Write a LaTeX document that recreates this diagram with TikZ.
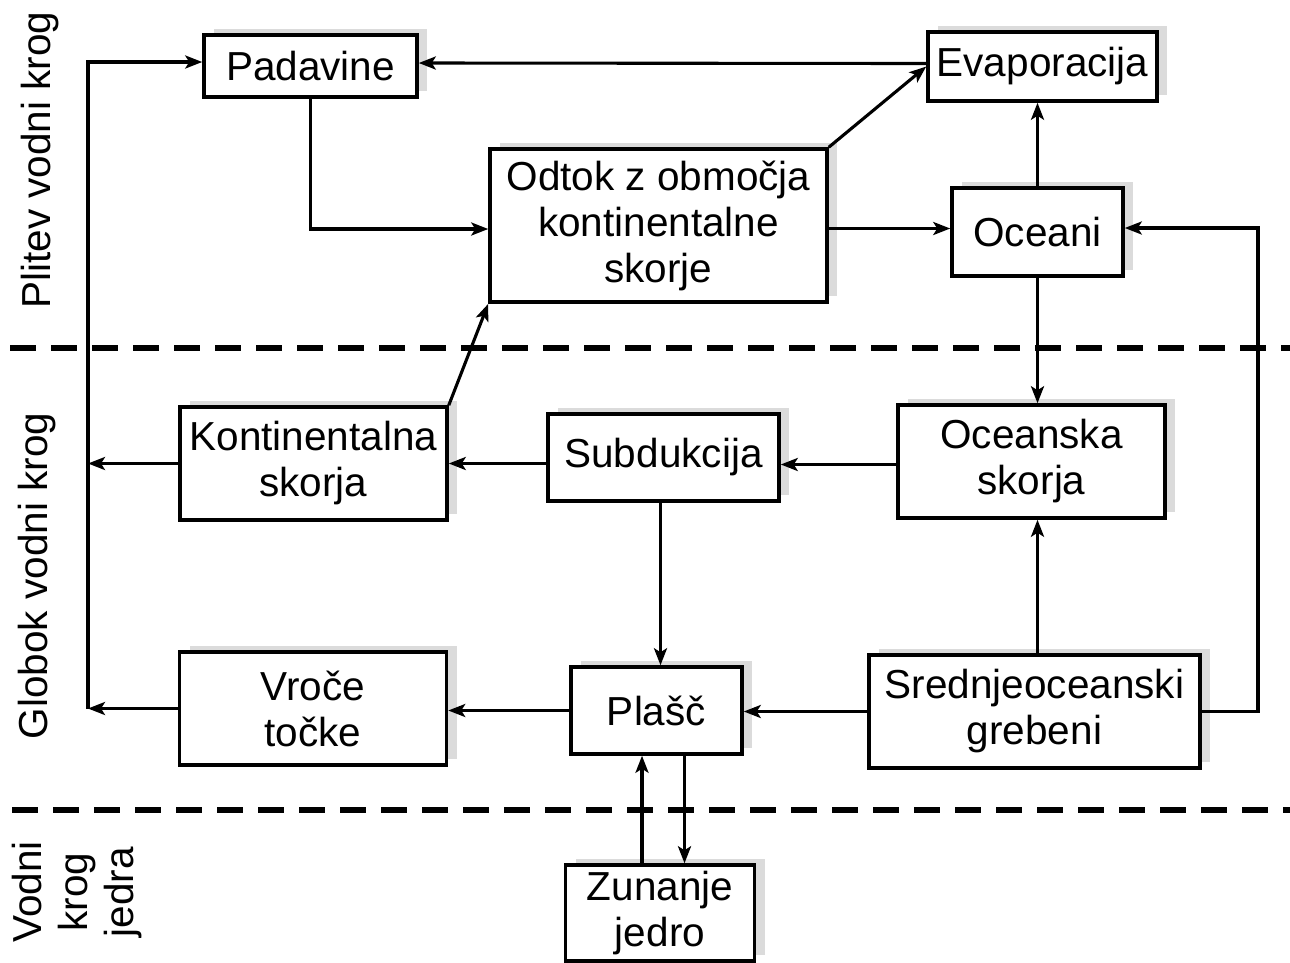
\documentclass[tikz,border=0pt]{standalone}
\usepackage{fontspec}
\setmainfont{Liberation Sans}
\usepackage{xcolor}
\usepackage{tikz}
\definecolor{shadowgray}{gray}{0.86}
\usetikzlibrary{arrows.meta,shadows}

\begin{document}
\begin{tikzpicture}[x=1pt, y=1pt,
    every node/.style={font=\fontsize{40.5}{46}\selectfont},
    box/.style={draw, line width=3.5pt, fill=white, inner sep=0pt, align=center,
      drop shadow={shadow xshift=10pt, shadow yshift=6pt, fill=shadowgray, draw=none, opacity=1}},
    arr/.style={line width=3.1pt, -{Stealth[length=17pt,width=13pt,inset=4pt]}},
    divline/.style={line width=6pt, dash pattern=on 26pt off 15pt}]
    \useasboundingbox (0,0) rectangle (1290,-962);
    % zones
    \draw[divline] (10,-348) -- (1290,-348);
    \draw[divline] (12,-810) -- (1290,-810);
    \node[rotate=90, anchor=base] (plitev) at (50,-160) {Plitev vodni krog};
    \node[rotate=90, anchor=base] (globok) at (47,-576) {Globok vodni krog};
    \node[rotate=90, align=center, inner sep=0pt] (jedrokrog) at (77,-892) {Vodni\\krog\\jedra};
    % boxes
    \node[box, minimum width=213pt, minimum height=62pt] (pad) at (310.5,-66) {Padavine};
    \node[box, minimum width=229pt, minimum height=69pt] (evap) at (1042.5,-66.5) {Evaporacija};
    \node[box, minimum width=337pt, minimum height=153pt] (odtok) at (658.5,-225.5) {Odtok z območja\\kontinentalne\\skorje};
    \node[box, minimum width=171pt, minimum height=88pt] (ocean) at (1037.5,-232) {Oceani};
    \node[box, minimum width=267pt, minimum height=113pt] (kont) at (313.5,-463.5) {Kontinentalna\\skorja};
    \node[box, minimum width=231pt, minimum height=87pt] (sub) at (663.5,-457.5) {Subdukcija};
    \node[box, minimum width=267pt, minimum height=113pt] (oks) at (1031.5,-461.5) {Oceanska\\skorja};
    \node[box, minimum width=267pt, minimum height=113pt] (vroce) at (313,-708.5) {Vroče\\točke};
    \node[box, minimum width=171pt, minimum height=87pt] (plasc) at (656.5,-710.5) {Plašč};
    \node[box, minimum width=331pt, minimum height=113pt] (sred) at (1034.5,-711.5) {Srednjeoceanski\\grebeni};
    \node[box, minimum width=189pt, minimum height=96pt] (zun) at (660,-913) {Zunanje\\jedro};
    \coordinate (lbus) at (88,0);
    \coordinate (rbus) at (1258,-228);
    % shallow cycle
    \draw[arr] ([yshift=3pt]evap.west) -- ([yshift=3pt]pad.east);
    \draw[arr] (pad.south) |- ([yshift=-3.5pt]odtok.west);
    \draw[arr] (odtok.north east) -- (evap.west);
    \draw[arr] ([yshift=-3pt]odtok.east) -- ([yshift=-3pt]odtok.east -| ocean.west);
    \draw[arr] (ocean.north) -- (ocean.north |- evap.south);
    \draw[arr] (ocean.south) -- (ocean.south |- oks.north);
    % deep cycle
    \draw[arr] (sred.east) -| (rbus) -- (rbus -| ocean.east);
    \draw[arr] (ocean.south |- sred.north) -- (ocean.south |- oks.south);
    \draw[arr] ([yshift=-3pt]oks.west) -- ([yshift=-3pt]oks.west -| sub.east);
    \draw[arr] (kont.east -| sub.west) -- (kont.east);
    \draw[arr] (kont.west) -- (kont.west -| lbus);
    \draw[arr] (kont.north east) -- (odtok.south west);
    \draw[arr] ([xshift=-3pt]sub.south) -- ([xshift=-3pt]sub.south |- plasc.north);
    \draw[arr] (sred.west) -- (sred.west -| plasc.east);
    \draw[arr] (plasc.west) -- (plasc.west -| vroce.east);
    \draw[arr] (vroce.west) -- (vroce.west -| lbus);
    \draw[arr] (vroce.west -| lbus) |- ([yshift=4pt]pad.west);
    % core cycle
    \draw[arr] ([xshift=-18pt]zun.north) -- ([xshift=-18pt]zun.north |- plasc.south);
    \draw[arr] ([xshift=28pt]plasc.south) -- ([xshift=28pt]plasc.south |- zun.north);
\end{tikzpicture}
\end{document}
